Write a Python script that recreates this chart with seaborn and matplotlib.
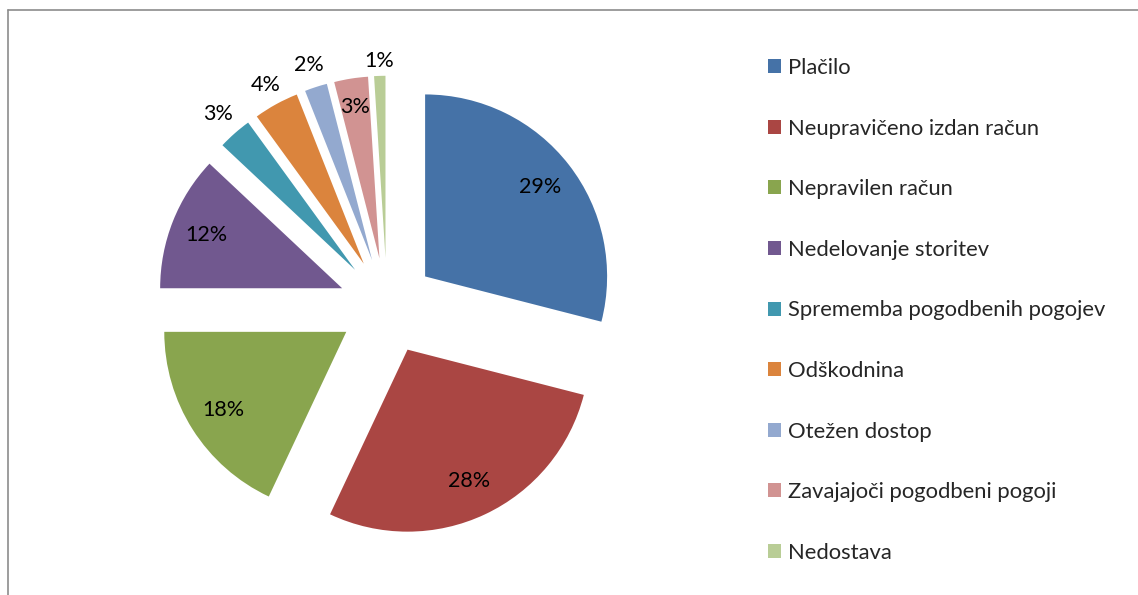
import matplotlib
matplotlib.use("Agg")
import matplotlib.pyplot as plt
from matplotlib.lines import Line2D
from matplotlib.patches import Patch
import seaborn as sns
import numpy as np

# podatki
kategorije = ["Plačilo", "Neupravičeno izdan račun", "Nepravilen račun",
              "Nedelovanje storitev", "Sprememba pogodbenih pogojev", "Odškodnina",
              "Otežen dostop", "Zavajajoči pogodbeni pogoji", "Nedostava"]
deleži = [29, 28, 18, 12, 3, 4, 2, 3, 1]
barve = ["#4572A7", "#AA4643", "#89A54E", "#71588F", "#4198AF",
         "#DB843D", "#93A9CF", "#D19392", "#B9CD96"]
# razdalja oznak od središča (delež polmera)
razdalje_oznak = [0.8, 0.8, 0.8, 0.8, 1.14, 1.12, 1.13, 0.84, 1.08]

sns.set_theme(style="white")
plt.rcParams['font.family'] = ['Lato', 'DejaVu Sans']

W, H = 1138, 595
fig = plt.figure(figsize=(W / 100, H / 100), dpi=100)

# pie središče in polmer v pikslih
cx, cy, R = 387, 306, 182
ax_w, ax_h = 2 * cx, 2 * (H - cy)
ax = fig.add_axes([0, 0, ax_w / W, ax_h / H])

wedges, _ = ax.pie(deleži, colors=barve, startangle=90, counterclock=False,
                   explode=[0.265] * len(deleži), radius=1,
                   wedgeprops=dict(linewidth=0))

for w, d, dist in zip(wedges, deleži, razdalje_oznak):
    ang = np.deg2rad((w.theta1 + w.theta2) / 2)
    x0, y0 = w.center
    ax.text(x0 + dist * np.cos(ang), y0 + dist * np.sin(ang), f"{d}%",
            ha="center", va="center", fontsize=15.5, color="black")

ax.set_xlim(-ax_w / 2 / R, ax_w / 2 / R)
ax.set_ylim(-ax_h / 2 / R, ax_h / 2 / R)
ax.set_aspect("equal")
ax.axis("off")

handles = [Patch(facecolor=c, edgecolor="none") for c in barve]
fig.legend(handles, kategorije, loc="upper left",
           bbox_to_anchor=(768 / W, 1 - 58 / H), frameon=False,
           fontsize=15.8, handlelength=0.6, handleheight=0.6,
           handletextpad=0.3, labelspacing=1.85, borderpad=0,
           borderaxespad=0)

# okvir
fig.add_artist(Line2D([8 / W, 8 / W], [0, 1 - 10 / H], color="#8c8c8c", lw=1.2,
                      transform=fig.transFigure))
fig.add_artist(Line2D([8 / W, 1], [1 - 10 / H, 1 - 10 / H], color="#8c8c8c", lw=1.2,
                      transform=fig.transFigure))

fig.savefig("out.png", dpi=100)
